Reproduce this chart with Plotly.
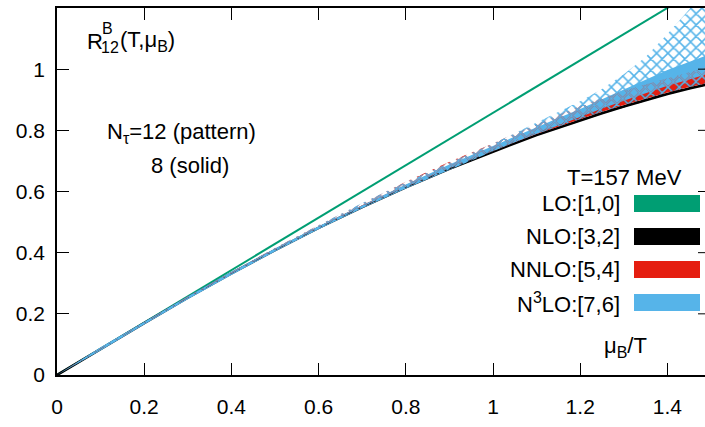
import plotly.graph_objects as go

# mu_B/T grid on which the Pade approximants are tabulated
mu_over_T = [0, 0.1, 0.2, 0.3, 0.4, 0.5, 0.6, 0.7, 0.8, 0.9, 1.0,
             1.05, 1.1, 1.15, 1.2, 1.25, 1.3, 1.35, 1.4, 1.45, 1.5]

# LO:[1,0] is a straight line
lo_x = [0, 1.5]
lo_y = [0, 1.286]

# NLO:[3,2], N_tau = 8
nlo_n8 = [0, 0.0855, 0.1700, 0.2526, 0.3322, 0.4085, 0.4810, 0.5494, 0.6138, 0.6742, 0.7312,
          0.7580, 0.7843, 0.8090, 0.8327, 0.8560, 0.8779, 0.8990, 0.9187, 0.9370, 0.9529]

# NNLO:[5,4], N_tau = 8 (band)
nnlo_n8_lo = [0, 0.0852, 0.1698, 0.2525, 0.3322, 0.4086, 0.4812, 0.5500, 0.6150, 0.6760, 0.7340,
              0.7610, 0.7880, 0.8130, 0.8370, 0.8610, 0.8830, 0.9040, 0.9240, 0.9420, 0.9560]
nnlo_n8_hi = [0, 0.0870, 0.1720, 0.2550, 0.3350, 0.4115, 0.4850, 0.5550, 0.6210, 0.6850, 0.7450,
              0.7740, 0.8030, 0.8310, 0.8580, 0.8840, 0.9090, 0.9330, 0.9560, 0.9760, 0.9920]

# N3LO:[7,6], N_tau = 8 (band)
n3lo_n8_lo = [0, 0.0805, 0.1650, 0.2476, 0.3272, 0.4035, 0.4762, 0.5450, 0.6100, 0.6720, 0.7320,
              0.7610, 0.7890, 0.8170, 0.8440, 0.8710, 0.8970, 0.9220, 0.9460, 0.9660, 0.9880]
n3lo_n8_hi = [0, 0.0905, 0.1750, 0.2576, 0.3372, 0.4135, 0.4865, 0.5560, 0.6230, 0.6880, 0.7500,
              0.7800, 0.8100, 0.8400, 0.8700, 0.9010, 0.9330, 0.9650, 0.9970, 1.0230, 1.0500]

# N_tau = 12 bands (hatched)
nlo_n12_lo = [0, 0.0850, 0.1690, 0.2515, 0.3310, 0.4072, 0.4795, 0.5478, 0.6120, 0.6722, 0.7290,
              0.7560, 0.7820, 0.8065, 0.8300, 0.8530, 0.8750, 0.8960, 0.9160, 0.9340, 0.9500]
nlo_n12_hi = [0, 0.0862, 0.1712, 0.2540, 0.3340, 0.4105, 0.4835, 0.5525, 0.6175, 0.6790, 0.7380,
              0.7660, 0.7940, 0.8210, 0.8480, 0.8730, 0.8960, 0.9180, 0.9400, 0.9560, 0.9730]
nnlo_n12_lo = [0, 0.0852, 0.1698, 0.2525, 0.3322, 0.4086, 0.4812, 0.5500, 0.6150, 0.6760, 0.7340,
               0.7610, 0.7880, 0.8130, 0.8370, 0.8610, 0.8830, 0.9040, 0.9240, 0.9420, 0.9560]
nnlo_n12_hi = [0, 0.0870, 0.1725, 0.2560, 0.3370, 0.4150, 0.4900, 0.5620, 0.6320, 0.6970, 0.7570,
               0.7890, 0.8210, 0.8510, 0.8800, 0.9050, 0.9300, 0.9520, 0.9720, 0.9900, 1.0100]
n3lo_n12_lo = [0, 0.0852, 0.1698, 0.2525, 0.3322, 0.4086, 0.4812, 0.5500, 0.6150, 0.6760, 0.7340,
               0.7610, 0.7880, 0.8130, 0.8370, 0.8610, 0.8830, 0.9040, 0.9240, 0.9420, 0.9560]
n3lo_n12_hi = [0, 0.0870, 0.1725, 0.2560, 0.3370, 0.4150, 0.4900, 0.5620, 0.6300, 0.6940, 0.7560,
               0.7900, 0.8250, 0.8600, 0.8950, 0.9350, 0.9830, 1.0400, 1.1150, 1.1950, 1.3000]

x_ticks = [0, 0.2, 0.4, 0.6, 0.8, 1.0, 1.2, 1.4]
x_tick_text = ["0", "0.2", "0.4", "0.6", "0.8", "1", "1.2", "1.4"]
y_ticks = [0, 0.2, 0.4, 0.6, 0.8, 1.0, 1.2]
y_tick_text = ["0", "0.2", "0.4", "0.6", "0.8", "1", "1.2"]

SUB = '<span style="font-size:16px">{}</span>'
order_labels = ["LO:[1,0]", "NLO:[3,2]", "NNLO:[5,4]",
                "N<sup>" + SUB.format("3") + "</sup>LO:[7,6]"]
order_colors = ["#009e73", "#000000", "#e51e10", "#56b4e9"]

FONT = "Liberation Sans, Arial, Helvetica, sans-serif"
W, H = 705, 427
ML, MR, MT, MB = 57, 0, 8, 52
PW, PH = W - ML - MR, H - MT - MB
X_MAX = 1.4862


def px(x):
    return (x - ML) / PW


def py(y):
    return (H - MB - y) / PH


def band(x, lo, hi):
    return list(x) + list(x)[::-1], list(lo) + list(hi)[::-1]


fig = go.Figure()

fig.add_trace(go.Scatter(x=lo_x, y=lo_y, mode="lines",
                         line=dict(color=order_colors[0], width=2)))
fig.add_trace(go.Scatter(x=mu_over_T, y=nlo_n8, mode="lines",
                         line=dict(color=order_colors[1], width=2.6)))

for lo, hi, col in [(nnlo_n8_lo, nnlo_n8_hi, order_colors[2]),
                    (n3lo_n8_lo, n3lo_n8_hi, order_colors[3])]:
    bx, by = band(mu_over_T, lo, hi)
    fig.add_trace(go.Scatter(x=bx, y=by, mode="lines", fill="toself",
                             fillcolor=col, line=dict(width=0)))

for lo, hi, col in [(nlo_n12_lo, nlo_n12_hi, order_colors[1]),
                    (nnlo_n12_lo, nnlo_n12_hi, order_colors[2]),
                    (n3lo_n12_lo, n3lo_n12_hi, order_colors[3])]:
    bx, by = band(mu_over_T, lo, hi)
    fig.add_trace(go.Scatter(
        x=bx, y=by, mode="lines", fill="toself",
        fillcolor="rgba(0,0,0,0)", line=dict(width=0),
        fillpattern=dict(shape="x", size=8, solidity=0.35, fgcolor=col,
                         bgcolor="rgba(0,0,0,0)", fillmode="replace")))

shapes = []
# ticks on the right-hand edge
for yv in y_ticks[1:-1]:
    shapes.append(dict(type="line", xref="paper", yref="y",
                       x0=px(698), x1=1.0, y0=yv, y1=yv,
                       line=dict(color="black", width=1)))

# key swatches
sw_rows = [(195, 212), (228, 245), (261, 278), (294, 311)]
for (y0, y1), col in zip(sw_rows, order_colors):
    shapes.append(dict(type="rect", xref="paper", yref="paper",
                       x0=px(634), x1=px(700), y0=py(y1), y1=py(y0),
                       fillcolor=col, line=dict(width=0)))

annotations = []


def label(text, x, y, size=22, xanchor="left"):
    annotations.append(dict(text=text, x=px(x), y=py(y), xref="paper", yref="paper",
                            xanchor=xanchor, yanchor="middle", showarrow=False,
                            borderpad=0,
                            font=dict(family=FONT, size=size, color="black")))


# R^B_12(T, mu_B) with stacked super/subscript
label("R", 86, 41)
label("B", 101, 28, size=16)
label("12", 100, 47, size=16)
label("(T,μ<sub>" + SUB.format("B") + "</sub>)", 119, 41)

label("N<sub>" + SUB.format("τ") + "</sub>=12 (pattern)", 106, 133)
label("8 (solid)", 150, 165)

label("T=157 MeV", 624, 178, xanchor="center")
for text, (y0, y1) in zip(order_labels, sw_rows):
    label(text, 621, (y0 + y1) / 2, xanchor="right")

label("μ<sub>" + SUB.format("B") + "</sub>/T", 625, 347, xanchor="center")

fig.update_layout(
    width=W, height=H,
    margin=dict(l=ML, r=MR, t=MT, b=MB, pad=0),
    paper_bgcolor="white", plot_bgcolor="white",
    showlegend=False,
    font=dict(family=FONT, size=21, color="black"),
    shapes=shapes, annotations=annotations,
    xaxis=dict(range=[0, X_MAX], tickvals=x_ticks, ticktext=x_tick_text,
               ticks="inside", ticklen=12, tickwidth=1, tickcolor="black",
               showline=True, linecolor="black", linewidth=1.5, mirror="ticks",
               showgrid=False, zeroline=False, ticklabelstandoff=12,
               tickfont=dict(family=FONT, size=21, color="black")),
    yaxis=dict(range=[0, 1.2], tickvals=y_ticks, ticktext=y_tick_text,
               ticks="inside", ticklen=12, tickwidth=1, tickcolor="black",
               showline=True, linecolor="black", linewidth=1.5, mirror=False,
               showgrid=False, zeroline=False, ticklabelstandoff=6,
               tickfont=dict(family=FONT, size=21, color="black")),
)

fig.write_html("out.html")
